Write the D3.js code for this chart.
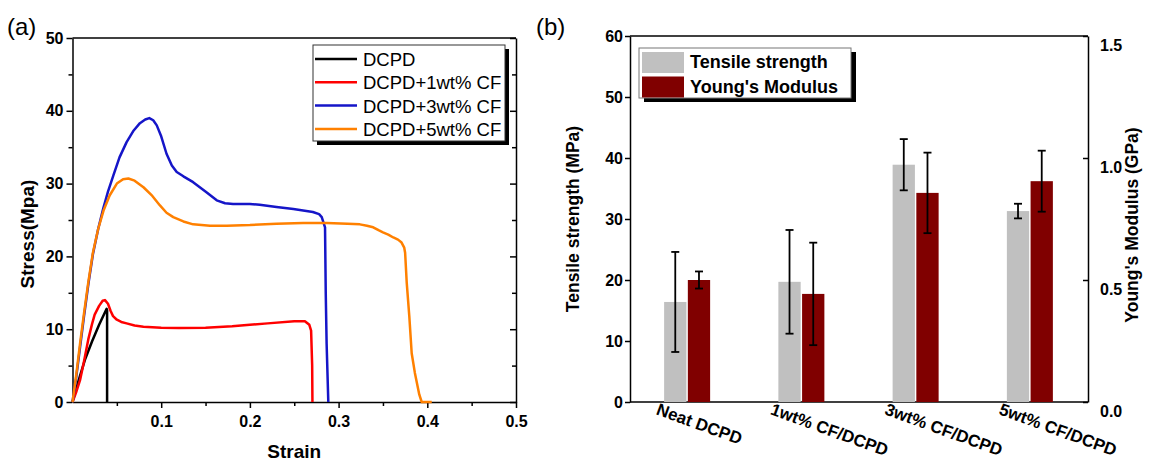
<!DOCTYPE html>
<html lang="en">
<head>
    <meta charset="UTF-8">
    <title>Stress-strain and tensile properties</title>
    <style>
        body { margin: 0; background: #fff; }
        svg { font-family: "Liberation Sans", Arial, sans-serif; }
        .axis path, .axis line { stroke: #000; stroke-width: 1.5px; }
        .axis text { font-size: 16px; font-weight: bold; fill: #000; }
        .curve { fill: none; stroke-width: 2.5px; stroke-linejoin: round; }
        .title { font-size: 19px; font-weight: bold; }
    </style>
</head>
<body>
    <div id="chart"></div>
    <script src="https://d3js.org/d3.v7.min.js"></script>
    <script>
        // panel (a): stress-strain curves, [strain, stress MPa]
        const dcpd = [[0,0],[0.007,3.0],[0.014,5.8],[0.022,8.3],[0.030,10.6],[0.0385,12.8],[0.039,12.6],[0.039,0]];
        const cf1 = [[0,0],[0.004,1.3],[0.0085,3.0],[0.013,5.6],[0.0178,8.6],[0.022,10.7],[0.025,12.0],[0.030,13.2],
            [0.034,13.9],[0.0366,14.0],[0.040,13.5],[0.043,12.5],[0.0457,11.8],[0.050,11.3],[0.055,11.0],[0.061,10.8],
            [0.07,10.5],[0.08,10.35],[0.1,10.2],[0.12,10.15],[0.15,10.2],[0.18,10.4],[0.2,10.6],[0.22,10.8],[0.25,11.1],
            [0.262,11.1],[0.267,10.6],[0.269,9.8],[0.2702,5],[0.2705,0]];
        const cf3 = [[0,0],[0.004,3.2],[0.0085,7.5],[0.013,11.8],[0.018,16.3],[0.023,20.3],[0.029,23.8],[0.0347,26.6],
            [0.04,28.9],[0.046,31.1],[0.053,33.6],[0.061,35.7],[0.069,37.3],[0.076,38.3],[0.082,38.8],[0.0866,39.0],
            [0.091,38.7],[0.095,38.0],[0.1,36.5],[0.106,34.1],[0.112,32.5],[0.1175,31.6],[0.125,31.0],[0.136,30.2],
            [0.151,28.8],[0.1626,27.7],[0.172,27.3],[0.181,27.2],[0.2,27.2],[0.211,27.1],[0.23,26.8],[0.249,26.5],
            [0.271,26.1],[0.278,25.8],[0.281,25.4],[0.2847,24.0],[0.2855,15],[0.2865,8],[0.2884,0]];
        const cf5 = [[0,0],[0.004,3.5],[0.0085,8],[0.013,12.2],[0.018,16.6],[0.023,20.5],[0.029,23.8],[0.035,26.3],
            [0.042,28.4],[0.05,30.0],[0.057,30.6],[0.063,30.7],[0.07,30.4],[0.08,29.5],[0.09,28.3],[0.0986,27.0],
            [0.106,26.0],[0.1136,25.4],[0.125,24.8],[0.136,24.4],[0.155,24.2],[0.174,24.2],[0.2,24.3],[0.23,24.5],
            [0.26,24.6],[0.2866,24.6],[0.31,24.5],[0.324,24.4],[0.332,24.2],[0.339,24.0],[0.345,23.6],[0.35,23.3],
            [0.356,23.0],[0.3617,22.6],[0.367,22.3],[0.371,21.9],[0.374,21.2],[0.375,20.5],[0.3768,16.4],[0.3797,11.8],
            [0.3824,6.7],[0.386,4.0],[0.391,1.0],[0.3937,0],[0.405,0]];
        const curveNames = ["DCPD", "DCPD+1wt% CF", "DCPD+3wt% CF", "DCPD+5wt% CF"];
        const curveColors = ["#000000", "#ff0000", "#1515c8", "#ff8000"];
        const strainTicks = [0.1, 0.2, 0.3, 0.4, 0.5];
        const stressTicks = [0, 10, 20, 30, 40, 50];

        // panel (b): bars
        const categories = ["Neat DCPD", "1wt% CF/DCPD", "3wt% CF/DCPD", "5wt% CF/DCPD"];
        const tensile = [16.4, 19.7, 38.9, 31.3];
        const tensileErr = [8.2, 8.5, 4.2, 1.2];
        const modulus = [0.50, 0.443, 0.857, 0.905];
        const modulusErr = [0.035, 0.21, 0.165, 0.125];
        const tensileTicks = [0, 10, 20, 30, 40, 50, 60];
        const modulusTicks = [0, 0.5, 1.0, 1.5];
        const barNames = ["Tensile strength", "Young's Modulus"];
        const barColors = ["#c0c0c0", "#800000"];

        const svg = d3.select("#chart").append("svg")
          .attr("width", 1149)
          .attr("height", 467);

        // ---------- panel (a) ----------
        const xA = d3.scaleLinear().domain([0, 0.5]).range([72.5, 516]);
        const yA = d3.scaleLinear().domain([0, 50]).range([402, 38]);

        svg.append("text").attr("x", 7).attr("y", 35)
          .style("font-size", "24px").text("(a)");

        // frame
        svg.append("line").attr("x1", xA(0)).attr("x2", xA(0.5)).attr("y1", yA(50)).attr("y2", yA(50))
          .attr("stroke", "#000").attr("stroke-width", 1.5);

        // minor ticks
        svg.append("g").attr("class", "axis").attr("transform", `translate(${xA(0)},0)`)
          .call(d3.axisLeft(yA).tickValues(d3.range(5, 50, 10)).tickSize(4).tickFormat(""))
          .select(".domain").remove();
        svg.append("g").attr("class", "axis").attr("transform", `translate(${xA(0.5)},0)`)
          .call(d3.axisLeft(yA).tickValues(d3.range(5, 50, 10)).tickSize(4).tickFormat(""))
          .select(".domain").remove();
        svg.append("g").attr("class", "axis").attr("transform", `translate(0,${yA(0)})`)
          .call(d3.axisBottom(xA).tickValues(d3.range(0.05, 0.5, 0.1)).tickSize(4).tickFormat(""))
          .select(".domain").remove();

        svg.append("g").attr("class", "axis").attr("transform", `translate(${xA(0)},0)`)
          .call(d3.axisLeft(yA).tickValues(stressTicks).tickSize(6).tickSizeOuter(0).tickPadding(3));
        svg.append("g").attr("class", "axis").attr("transform", `translate(${xA(0.5)},0)`)
          .call(d3.axisLeft(yA).tickValues(stressTicks).tickSize(6).tickSizeOuter(0).tickFormat(""));
        svg.append("g").attr("class", "axis").attr("transform", `translate(0,${yA(0)})`)
          .call(d3.axisBottom(xA).tickValues(strainTicks).tickSize(6).tickSizeOuter(0).tickPadding(8)
            .tickFormat(d3.format(".1f")));

        svg.append("text").attr("class", "title")
          .attr("x", (xA(0) + xA(0.5)) / 2).attr("y", 458)
          .attr("text-anchor", "middle").text("Strain");
        svg.append("text").attr("class", "title")
          .attr("transform", `translate(34,${(yA(0) + yA(50)) / 2 + 14}) rotate(-90)`)
          .attr("text-anchor", "middle").text("Stress(Mpa)");

        const line = d3.line().x(d => xA(d[0])).y(d => yA(d[1]));
        [dcpd, cf1, cf3, cf5].forEach((s, i) => {
          svg.append("path").attr("class", "curve")
            .attr("d", line(s)).attr("stroke", curveColors[i]);
        });

        // legend (a)
        const legA = svg.append("g").attr("transform", "translate(313,45)");
        legA.append("rect").attr("x", 4).attr("y", 4).attr("width", 192).attr("height", 96).attr("fill", "#000");
        legA.append("rect").attr("width", 192).attr("height", 96).attr("fill", "#fff")
          .attr("stroke", "#333").attr("stroke-width", 1);
        curveNames.forEach((n, i) => {
          const yy = 14 + i * 23.3;
          legA.append("line").attr("x1", 2).attr("x2", 44).attr("y1", yy).attr("y2", yy)
            .attr("stroke", curveColors[i]).attr("stroke-width", 2.5);
          legA.append("text").attr("x", 50).attr("y", yy + 7)
            .style("font-size", "18.5px").text(n);
        });

        // ---------- panel (b) ----------
        const xB = d3.scaleBand().domain(categories).range([630, 1087]);
        const sub = d3.scaleBand().domain(barNames).range([-23, 23]).paddingInner(0.06);
        const yB = d3.scaleLinear().domain([0, 60]).range([402, 36]);
        const yR = d3.scaleLinear().domain([0, 1.5]).range([402, 36]);

        svg.append("text").attr("x", 536).attr("y", 35)
          .style("font-size", "24px").text("(b)");

        svg.append("line").attr("x1", 630).attr("x2", 1088).attr("y1", yB(60)).attr("y2", yB(60))
          .attr("stroke", "#000").attr("stroke-width", 1.5);
        svg.append("line").attr("x1", 630).attr("x2", 1088).attr("y1", yB(0)).attr("y2", yB(0))
          .attr("stroke", "#000").attr("stroke-width", 1.5);

        svg.append("g").attr("class", "axis").attr("transform", "translate(630,0)")
          .call(d3.axisLeft(yB).tickValues(tensileTicks).tickSize(5).tickSizeOuter(0).tickPadding(2));
        svg.append("g").attr("class", "axis").attr("transform", "translate(1088,0)")
          .call(d3.axisRight(yR).tickValues(modulusTicks).tickSize(-5).tickSizeOuter(0).tickPadding(12)
            .tickFormat(d3.format(".1f")))
          .selectAll("text").attr("dy", "0.9em");

        svg.append("text").attr("class", "title")
          .attr("transform", `translate(579,${(yB(0) + yB(60)) / 2}) rotate(-90)`)
          .attr("text-anchor", "middle").style("font-size", "17.5px").text("Tensile strength (MPa)");
        svg.append("text").attr("class", "title")
          .attr("transform", `translate(1138,${(yB(0) + yB(60)) / 2 + 6}) rotate(-90)`)
          .attr("text-anchor", "middle").style("font-size", "17.5px").text("Young's Modulus (GPa)");

        const groups = svg.append("g").selectAll("g").data(categories).join("g")
          .attr("transform", d => `translate(${xB(d) + xB.bandwidth() / 2},0)`);

        groups.append("rect")
          .attr("x", sub(barNames[0])).attr("width", sub.bandwidth())
          .attr("y", (d, i) => yB(tensile[i])).attr("height", (d, i) => yB(0) - yB(tensile[i]))
          .attr("fill", barColors[0]);
        groups.append("rect")
          .attr("x", sub(barNames[1])).attr("width", sub.bandwidth())
          .attr("y", (d, i) => yR(modulus[i])).attr("height", (d, i) => yR(0) - yR(modulus[i]))
          .attr("fill", barColors[1]);

        function errBar(g, cx, top, bot) {
          g.append("line").attr("x1", cx).attr("x2", cx).attr("y1", top).attr("y2", bot);
          g.append("line").attr("x1", cx - 4).attr("x2", cx + 4).attr("y1", top).attr("y2", top);
          g.append("line").attr("x1", cx - 4).attr("x2", cx + 4).attr("y1", bot).attr("y2", bot);
        }
        groups.each(function (d, i) {
          const g = d3.select(this).append("g").attr("stroke", "#000").attr("stroke-width", 1.8);
          const c0 = sub(barNames[0]) + sub.bandwidth() / 2;
          const c1 = sub(barNames[1]) + sub.bandwidth() / 2;
          errBar(g, c0, yB(tensile[i] + tensileErr[i]), yB(tensile[i] - tensileErr[i]));
          errBar(g, c1, yR(modulus[i] + modulusErr[i]), yR(modulus[i] - modulusErr[i]));
        });

        groups.append("text")
          .attr("transform", "translate(-32,414) rotate(20)")
          .style("font-size", "17px").style("font-weight", "bold")
          .text(d => d);

        // legend (b)
        const legB = svg.append("g").attr("transform", "translate(639,48)");
        legB.append("rect").attr("x", 5).attr("y", 4).attr("width", 212).attr("height", 50).attr("fill", "#000");
        legB.append("rect").attr("width", 212).attr("height", 50).attr("fill", "#fff")
          .attr("stroke", "#777").attr("stroke-width", 1);
        barNames.forEach((n, i) => {
          legB.append("rect").attr("x", 3).attr("y", 4 + i * 24.5).attr("width", 42).attr("height", 21)
            .attr("fill", barColors[i]);
          legB.append("text").attr("x", 51).attr("y", 20 + i * 24.5)
            .style("font-size", "18px").style("font-weight", "bold").text(n);
        });
    </script>
</body>
</html>
